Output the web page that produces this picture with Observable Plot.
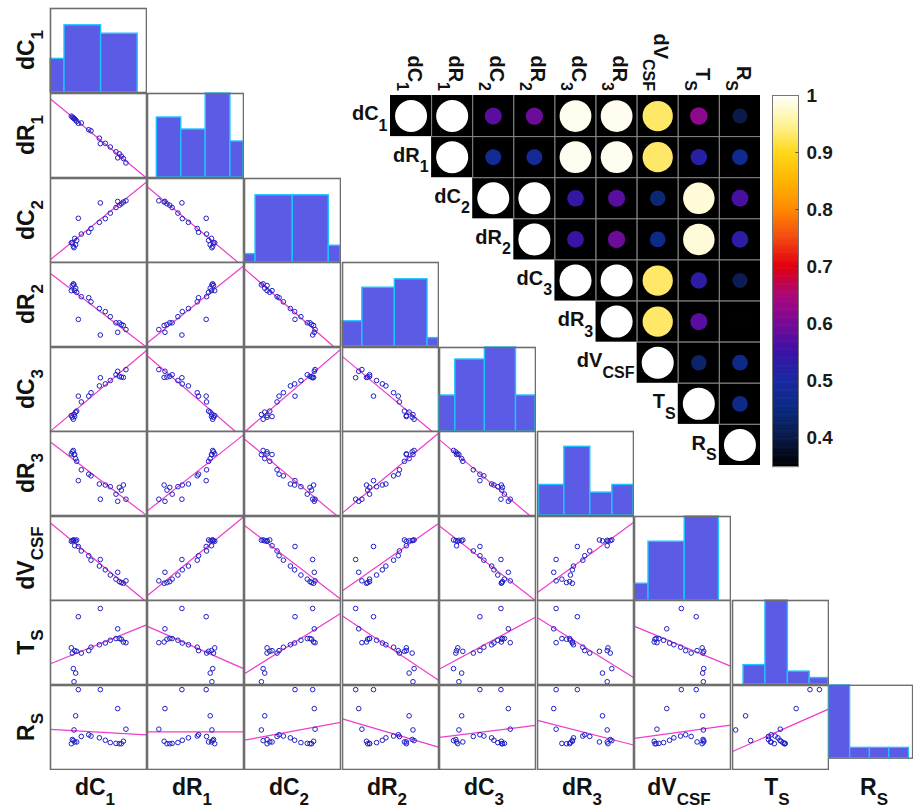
<!DOCTYPE html>
<html><head><meta charset="utf-8">
<script src="https://cdn.jsdelivr.net/npm/d3@7"></script>
<script src="https://cdn.jsdelivr.net/npm/@observablehq/plot@0.6"></script>
<style>
body{margin:0;background:#fff;}
#fig{position:relative;width:913px;height:808px;overflow:hidden;background:#fff;font-family:"Liberation Sans",Arial,sans-serif;}
#fig svg{overflow:hidden;}
</style></head><body><div id="fig"></div>
<script>
// ---------- DATA ----------
const varMain = ["dC","dR","dC","dR","dC","dR","dV","T","R"];
const varSub  = ["1","1","2","2","3","3","CSF","S","S"];

// 21 observations, each variable in units of its own axis range (0..100)
const dC1 = [21.7,22.7,23.8,24.5,25.2,26.2,27.3,29.0,32.1,39.8,42.2,50.9,51.9,57.1,62.3,68.2,70.0,71.7,73.8,75.9,78.6];
const dR1 = [73.0,71.8,71.0,70.2,69.8,68.5,66.9,64.5,64.9,56.9,55.6,46.8,40.3,40.7,36.3,30.6,23.4,28.2,25.4,22.6,17.3];
const dC2 = [23.5,23.5,19.4,17.6,28.7,21.1,26.3,52.6,33.9,36.0,40.5,47.8,71.0,52.2,58.8,65.4,72.7,68.2,69.9,72.0,73.5];
const dR2 = [66.5,72.6,74.6,73.4,66.5,69.4,64.5,32.3,59.3,58.1,53.2,45.2,13.7,41.5,35.5,28.2,16.9,28.2,26.2,25.0,20.2];
const dC3 = [19.0,17.0,14.6,20.2,17.8,23.1,24.3,42.1,35.2,42.1,46.2,54.3,64.0,56.7,60.7,67.6,71.7,65.6,64.8,64.4,73.7];
const dR3 = [73.4,75.8,77.4,72.6,72.6,67.7,64.5,41.5,54.4,49.2,47.2,37.5,19.4,36.3,34.3,25.4,16.9,33.5,30.2,36.3,19.4];
const dVCSF = [70.5,71.3,72.1,71.7,65.2,71.0,72.1,64.3,59.0,53.3,48.0,41.0,48.8,36.5,30.3,25.4,33.6,22.5,21.3,20.5,23.4];
const TS = [43.6,37.4,18.9,3.3,40.3,13.6,39.5,80.7,37.4,40.3,44.4,47.3,90.5,49.4,52.7,54.7,66.3,54.7,53.9,50.6,49.8];
const RS = [30.7,35.7,34.4,47.1,32.8,63.9,32.8,95.1,39.3,41.4,39.8,37.7,95.1,34.8,32.0,31.1,72.5,30.7,30.7,33.6,48.0];
const series = [dC1,dR1,dC2,dR2,dC3,dR3,dVCSF,TS,RS];

// histogram bins (edges on the same 0..100 axis) and counts
const histEdges = [
  [-23.5,14.6,52.7,90.8],
  [9.7,35.2,60.6,86.4,112],
  [-27.5,11.5,50.3,87.8,126.6],
  [-13.4,20.7,54.5,88.6,122.7],
  [-14.5,16.5,47.3,79.7,111],
  [1.6,28,55,78,104],
  [-23,14.6,52.3,87.9],
  [11.5,34.3,57.7,80.4,103.5],
  [0,25,48.6,72,95.6]
];
const histCounts = [
  [4,8,7],[5,4,7,3],[1,8,8,2],[3,7,8,1],[3,6,7,3],[4,9,3,4],[2,7,10],[3,13,2,1],[7,1,1,1]
];
const histTop = [10,7,10,10,7,11,10,13,7];

// correlation matrix, upper triangle rows
const corrValues = [
  [1,1.0,0.575,0.59,0.992,0.992,0.93,0.62,0.40],
  [1,0.48,0.48,0.992,0.992,0.93,0.52,0.47],
  [1,1.0,0.54,0.575,0.44,0.98,0.56],
  [1,0.55,0.59,0.46,0.98,0.53],
  [1,1.0,0.93,0.53,0.41],
  [1,0.93,0.575,0.35],
  [1,0.43,0.46],
  [1,0.46],
  [1]
];
const cbTicks = [0.4,0.5,0.6,0.7,0.8,0.9,1];
const cbDomain = [0.349,1];
// colormap stops
const cmapStops = [0.349,0.40,0.45,0.50,0.55,0.60,0.65,0.70,0.75,0.80,0.85,0.90,0.95,1.0];
const cmapColors = ["#000000","#0b1a48","#0b2a82","#1a2aa2","#3a12a6","#7a0a98","#ac0878","#e2000e","#f24a12","#ff8a00","#ffb400","#ffd81a","#fff39a","#ffffff"];

// ---------- LAYOUT ----------
const fig = document.getElementById("fig");
const COLX = j => Math.round(49.5 + 97.45*j);
const ROWY = i => Math.round(8.3 + 84.6*i);
const CW = 96, CH = 84;
const xLimits = series.map((s,k) => k === 1 ? [6,101.7] : [0,100]);
const FONT = "Liberation Sans, Arial, Helvetica, sans-serif";

function place(node, left, top){
  const d = document.createElement("div");
  d.style.cssText = `position:absolute;left:${left}px;top:${top}px;line-height:0;`;
  d.appendChild(node); fig.appendChild(d);
}

const cmap = d3.scaleLinear().domain(cmapStops).range(cmapColors).interpolate(d3.interpolateRgb).clamp(true);
const rScale = d3.scaleLinear().domain([0.35,0.62,0.92,1]).range([7.2,8.8,15,16]).clamp(true);

function scatterCell(i,j){
  const xs = series[j], ys = series[i];
  const pts = xs.map((x,k)=>({x, y: ys[k]}));
  const mx = d3.mean(xs), my = d3.mean(ys);
  const b = d3.sum(xs,(x,k)=>(x-mx)*(ys[k]-my)) / d3.sum(xs,x=>(x-mx)*(x-mx));
  const a = my - b*mx;
  let [xa, xb] = xLimits[j];
  if (Math.abs(b) > 1e-9){
    const p = (0-a)/b, q = (100-a)/b;
    xa = Math.max(xa, Math.min(p,q)); xb = Math.min(xb, Math.max(p,q));
  }
  const fit = [{x:xa, y:a+b*xa},{x:xb, y:a+b*xb}];
  return Plot.plot({
    width: CW+2, height: CH+2, margin: 1,
    style: {background:"transparent"},
    x: {domain: xLimits[j], axis: null},
    y: {domain: [0,100], axis: null},
    marks: [
      Plot.line(fit, {x:"x", y:"y", stroke:"#f03ccc", strokeWidth:1.2}),
      Plot.dot(pts, {x:"x", y:"y", r:2.3, stroke:"#2020c8", strokeWidth:1, fill:"none"}),
      Plot.frame({stroke:"#6e6e6e", strokeWidth:1.6})
    ]
  });
}

function histCell(k){
  const e = histEdges[k];
  const bins = histCounts[k].map((c,b)=>({x0:e[b], x1:e[b+1], c}));
  return Plot.plot({
    width: CW+2, height: CH+2, margin: 1,
    style: {background:"transparent"},
    x: {domain:[0,100], axis:null},
    y: {domain:[0,histTop[k]], axis:null},
    marks: [
      Plot.rect(bins, {x1:d=>Math.max(0,d.x0), x2:d=>Math.min(100,d.x1), y1:0, y2:"c",
        fill:"#5b5be6", stroke:"#1ec4ff", strokeWidth:1.4}),
      Plot.frame({stroke:"#6e6e6e", strokeWidth:1.6})
    ]
  });
}

for (let i=0;i<9;i++){
  for (let j=0;j<=i;j++){
    const node = (i===j) ? histCell(i) : scatterCell(i,j);
    place(node, COLX(j)-1, ROWY(i)-1);
  }
}

// ---------- correlation matrix ----------
const CX0 = 390, CY0 = 95.3, CS = 41.15;
const corrCells = corrValues.flatMap((row,i)=>row.map((v,k)=>({i, j:i+k, v})));
const vLines = d3.range(1,9), hLines = d3.range(1,9);
const corrPlot = Plot.plot({
  width: Math.round(9*CS), height: Math.round(9*CS), margin: 0,
  style: {background:"transparent"},
  x: {domain:[0,9], axis:null},
  y: {domain:[0,9], axis:null, reverse:true},
  r: {type:"identity"},
  marks: [
    Plot.rect(corrCells, {x1:"j", x2:d=>d.j+1, y1:"i", y2:d=>d.i+1, fill:"black"}),
    Plot.ruleX(vLines, {x:d=>d, y1:0, y2:d=>d, stroke:"#8c8c8c", strokeWidth:1}),
    Plot.ruleY(hLines, {y:d=>d, x1:d=>d, x2:9, stroke:"#8c8c8c", strokeWidth:1}),
    Plot.dot(corrCells, {x:d=>d.j+0.5, y:d=>d.i+0.5, r:d=>rScale(d.v), fill:d=>cmap(d.v), stroke:"none"})
  ]
});
place(corrPlot, CX0, Math.round(CY0));

// ---------- colorbar ----------
const cbStep = 0.002;
const cbRamp = d3.range(cbDomain[0], cbDomain[1], cbStep);
const CBTOP = 94.5, CBH = 371.2, CBW = 26;
const cbPlot = Plot.plot({
  width: CBW+2+70, height: CBH+24,
  marginLeft:1, marginRight:71, marginTop:12, marginBottom:12,
  style: {background:"transparent"},
  x: {domain:[0,1], axis:null},
  y: {domain: cbDomain, axis:null},
  marks: [
    Plot.rect(cbRamp, {x1:0, x2:1, y1:d=>d, y2:d=>Math.min(cbDomain[1], d+cbStep*1.6), fill:d=>cmap(d+cbStep/2)}),
    Plot.ruleY(cbTicks.filter(t=>t<1), {y:d=>d, x1:0.9, x2:1, stroke:"#333", strokeWidth:0.8}),
    Plot.frame({stroke:"#777", strokeWidth:1}),
    Plot.text(cbTicks, {x:1, y:d=>d, text:d=>d3.format("~g")(d), dx:8, textAnchor:"start",
      fontSize:19, fontWeight:"bold", fill:"#1a1a1a", fontFamily:FONT})
  ]
});
place(cbPlot, 771, Math.round(CBTOP-12));

// ---------- text labels ----------
const svg = d3.select(fig).append("svg")
  .attr("width",913).attr("height",808)
  .style("position","absolute").style("left","0px").style("top","0px")
  .style("pointer-events","none")
  .attr("font-family", FONT).attr("font-weight","bold").attr("fill","#111");

function label(x, y, rot, anchor, k, fs, subfs, dy){
  const t = svg.append("text")
    .attr("transform", `translate(${x},${y}) rotate(${rot})`)
    .attr("text-anchor", anchor).attr("font-size", fs);
  t.append("tspan").text(varMain[k]);
  t.append("tspan").attr("font-size", subfs).attr("dy", dy).text(varSub[k]);
}
for (let k=0;k<9;k++){
  // bottom labels
  label(COLX(k)+CW/2-3, 795, 0, "middle", k, 23, 17, 10);
  // left labels
  label(34, ROWY(k)+CH/2, -90, "middle", k, 23, 17, 9);
  // correlation matrix: column labels (top) and row labels
  label(CX0 + CS*k + CS/2 - 3, 91, 90, "end", k, 20, 16, 11);
  label(CX0 + CS*k - 2.5, CY0 + CS*k + CS/2 + 4.5, 0, "end", k, 20, 16, 10.5);
}
</script></body></html>
